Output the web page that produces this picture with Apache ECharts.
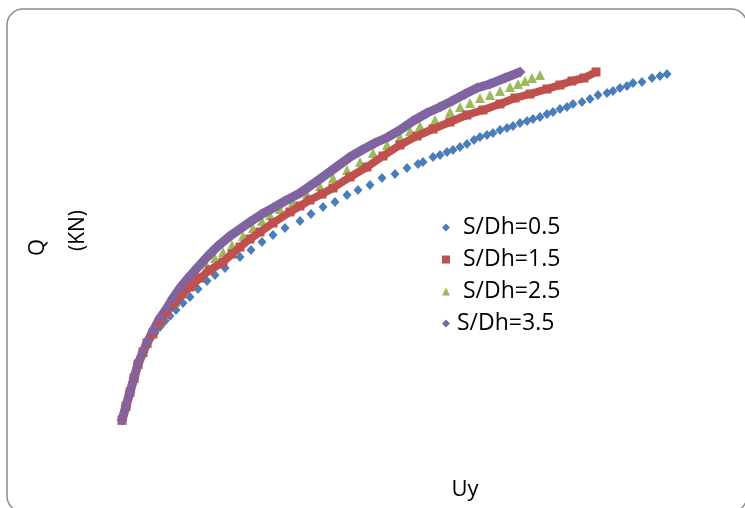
<!DOCTYPE html>
<html>
<head>
<meta charset="utf-8">
<script src="https://cdn.jsdelivr.net/npm/echarts@6/dist/echarts.min.js"></script>
<style>
  html, body { margin: 0; padding: 0; background: #fff; }
  #chart { width: 745px; height: 508px; }
</style>
</head>
<body>
<div id="chart"></div>
<script>
// [Uy, Q] pairs
var s05 = [[2.2,20],[2.4,27],[2.6,34],[2.8,41],[3.0,48],[3.2,55],[3.4,62],[3.6,69],[3.8,76],[4.1,83],
  [4.4,90],[4.7,96],[5.1,102],[5.5,107],[6.0,113],[6.5,119],[7.0,124],[7.6,130],[8.3,137],[9.0,143],
  [9.8,151],[10.7,159],[11.5,165],[12.5,172],[14.0,183],[15.1,190],[16.2,198],[17.3,205],[18.5,212],
  [20.0,219],[21.1,226],[22.3,233],[23.5,238],[24.7,245],[25.8,250],[27.0,255],[28.2,262],[29.5,266],
  [30.7,272],[31.8,276],[32.3,278],[33.3,283],[34.0,285],[34.7,288],[35.3,290],[36.0,293],[36.7,296],
  [37.4,300],[38.0,303],[38.7,305],[39.3,307],[40.0,310],[40.7,312],[41.3,314],[42.0,317],[42.7,319],
  [43.3,321],[44.0,323],[44.7,326],[45.3,328],[46.0,331],[46.7,333],[47.3,336],[48.2,338],[49.0,341],
  [49.8,345],[50.7,347],[51.3,349],[52.0,352],[52.7,354],[53.3,357],[54.2,358],[55.2,362],[56.0,364],
  [56.7,366]];
var s15 = [[2.2,20],[2.6,34],[3.0,48],[3.4,62],[3.8,76],[4.3,88],[4.7,97],[5.3,107],[6.0,118],[6.7,128],
  [7.5,138],[8.2,146],[9.0,153],[10.0,162],[11.0,170],[12.3,178],[13.2,186],[14.0,193],[15.0,201],
  [16.0,208],[17.3,217],[19.0,228],[20.0,234],[21.0,240],[22.2,246],[23.3,252],[25.0,263],[26.7,273],
  [28.3,284],[30.0,295],[31.7,304],[33.3,311],[35.0,318],[36.7,325],[38.3,330],[40.0,336],[41.5,342],
  [43.0,346],[44.7,351],[46.0,355],[47.2,359],[48.4,362],[49.6,368]];
var s25 = [[2.2,20],[2.6,34],[3.0,48],[3.4,62],[3.8,76],[4.3,88],[4.7,97],[5.3,106],[6.0,118],[6.7,128],
  [7.5,138],[8.2,147],[9.0,156],[9.7,164],[10.7,174],[11.5,182],[12.3,188],[13.2,195],[14.3,204],
  [15.3,212],[16.2,219],[17.0,225],[18.0,231],[19.3,238],[20.7,246],[22.0,254],[23.3,262],[24.7,270],
  [26.0,278],[27.3,287],[28.7,295],[30.0,303],[31.0,309],[32.0,314],[33.5,320],[35.0,328],[36.0,333],
  [37.0,337],[38.0,342],[39.0,345],[40.0,349],[41.0,353],[41.8,356],[42.5,359],[43.2,362],[44.0,365]];
var s35 = [[2.2,20],[2.6,34],[3.0,48],[3.4,62],[3.8,76],[4.3,88],[4.7,97],[5.3,109],[6.0,122],[6.7,132],
  [7.3,142],[8.0,152],[9.0,164],[9.8,173],[10.7,183],[11.8,194],[13.0,204],[14.0,211],[15.0,218],
  [16.2,226],[17.3,232],[18.5,239],[20.0,247],[21.0,254],[22.0,261],[23.5,272],[25.0,283],[26.2,290],
  [27.5,297],[28.8,303],[30.0,310],[31.3,319],[32.7,327],[34.0,333],[35.2,339],[36.5,346],[37.7,352],
  [39.0,356],[40.5,362],[42.0,368]];

var names = ['S/Dh=0.5', 'S/Dh=1.5', 'S/Dh=2.5', 'S/Dh=3.5'];
var colors = ['#4a7ebb', '#c0504d', '#9bbb59', '#8064a2'];

var myChart = echarts.init(document.getElementById('chart'));
var font = 'Open Sans';

var option = {
  animation: false,
  color: colors,
  grid: { left: 100, right: 45, top: 40, bottom: 68 },
  xAxis: {
    type: 'value', min: 0, max: 60,
    axisLine: { show: false }, axisTick: { show: false },
    axisLabel: { show: false }, splitLine: { show: false }
  },
  yAxis: {
    type: 'value', min: 0, max: 400,
    axisLine: { show: false }, axisTick: { show: false },
    axisLabel: { show: false }, splitLine: { show: false }
  },
  legend: {
    orient: 'vertical',
    left: 437,
    top: 211,
    itemWidth: 8,
    itemHeight: 8,
    itemGap: 9,
    textStyle: { fontFamily: font, fontSize: 23, color: '#000' },
    data: [
      { name: names[0], icon: 'diamond', textStyle: { padding: [0, 0, 0, 8] } },
      { name: names[1], icon: 'rect', textStyle: { padding: [0, 0, 0, 8] } },
      { name: names[2], icon: 'triangle', textStyle: { padding: [0, 0, 0, 8] } },
      { name: names[3], icon: 'diamond', textStyle: { padding: [0, 0, 0, 2] } }
    ]
  },
  graphic: [
    {
      type: 'rect',
      shape: { x: 7, y: 9, width: 740, height: 503, r: 16 },
      style: { fill: 'none', stroke: '#8c8c8c', lineWidth: 1.5 }
    },
    {
      type: 'text', x: 38, y: 256, rotation: Math.PI / 2,
      style: { text: 'Q', fontFamily: font, fontSize: 22, fill: '#000',
        textAlign: 'left', textVerticalAlign: 'middle' }
    },
    {
      type: 'text', x: 78, y: 251, rotation: Math.PI / 2,
      style: { text: '(KN)', fontFamily: font, fontSize: 21, fill: '#000',
        textAlign: 'left', textVerticalAlign: 'middle' }
    },
    {
      type: 'text', x: 465, y: 490,
      style: { text: 'Uy', fontFamily: font, fontSize: 22, fill: '#000',
        textAlign: 'center', textVerticalAlign: 'middle' }
    }
  ],
  series: [
    {
      name: names[0], type: 'scatter', data: s05,
      symbol: 'diamond', symbolSize: [9, 10],
      itemStyle: { opacity: 1 }
    },
    {
      name: names[1], type: 'line', data: s15,
      symbol: 'rect', symbolSize: 9, showAllSymbol: true,
      itemStyle: { opacity: 1 },
      lineStyle: { width: 8 }
    },
    {
      name: names[2], type: 'scatter', data: s25,
      symbol: 'triangle', symbolSize: 10,
      itemStyle: { opacity: 1 }
    },
    {
      name: names[3], type: 'line', data: s35,
      symbol: 'diamond', symbolSize: 11, showAllSymbol: true,
      itemStyle: { opacity: 1 },
      lineStyle: { width: 9 }
    }
  ]
};
myChart.setOption(option);
</script>
</body>
</html>
